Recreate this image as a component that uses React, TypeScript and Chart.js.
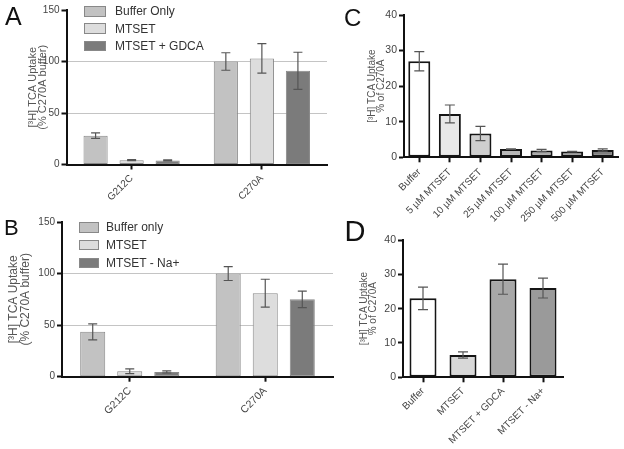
import React, { useEffect, useRef } from 'react';
import { Chart, registerables } from 'chart.js';

Chart.register(...registerables);

const FONT = "'Liberation Sans', Arial, Helvetica, sans-serif";

// ---------- Panel A ----------
const abCategories = ['G212C', 'C270A'];
const aLabels = ['Buffer Only', 'MTSET', 'MTSET + GDCA'];
const aBuffer = [28, 100];
const aBufferErr = [2.7, 8.5];
const aMtset = [4.2, 103];
const aMtsetErr = [0.5, 14.3];
const aGdca = [4, 91];
const aGdcaErr = [0.5, 18];
const aColors = ['#c2c2c2', '#dddddd', '#7b7b7b'];

// ---------- Panel B ----------
const bLabels = ['Buffer only', 'MTSET', 'MTSET - Na+'];
const bBuffer = [43.5, 100];
const bBufferErr = [7.7, 6.7];
const bMtset = [5.2, 81];
const bMtsetErr = [2.3, 13.5];
const bNa = [4.6, 75];
const bNaErr = [1, 8];
const bColors = ['#c2c2c2', '#dddddd', '#7b7b7b'];

// ---------- Panel C ----------
const cCategories = ['Buffer', '5 µM MTSET', '10 µM MTSET', '25 µM MTSET', '100 µM MTSET', '250 µM MTSET', '500 µM MTSET'];
const cValues = [27, 12.2, 6.7, 2.3, 1.9, 1.6, 2.05];
const cErr = [2.7, 2.5, 2, 0.1, 0.3, 0.1, 0.3];
const cColors = ['#ffffff', '#e8e8e8', '#cfcfcf', '#b7b7b7', '#aaaaaa', '#9a9a9a', '#808080'];

// ---------- Panel D ----------
const dCategories = ['Buffer', 'MTSET', 'MTSET + GDCA', 'MTSET - Na+'];
const dValues = [23, 6.5, 28.6, 26];
const dErr = [3.3, 0.9, 4.4, 2.9];
const dColors = ['#ffffff', '#d8d8d8', '#a8a8a8', '#9a9a9a'];

const abTitle = ['[³H] TCA Uptake', '(% C270A buffer)'];
const cdTitle = ['[³H] TCA Uptake', '% of C270A'];

const errorBarPlugin = {
  id: 'errorBars',
  afterDatasetsDraw(chart: any, _args: any, opts: any) {
    const ctx = chart.ctx;
    const ys = chart.scales.y;
    chart.data.datasets.forEach((ds: any, i: number) => {
      const meta = chart.getDatasetMeta(i);
      meta.data.forEach((el: any, j: number) => {
        const v = ds.data[j];
        const e = ds.errorBars ? ds.errorBars[j] : null;
        if (e == null) return;
        const x = el.x;
        const y1 = ys.getPixelForValue(v + e);
        const y2 = ys.getPixelForValue(v - e);
        const c = opts.cap / 2;
        ctx.save();
        ctx.strokeStyle = opts.color;
        ctx.lineWidth = opts.width;
        ctx.beginPath();
        ctx.moveTo(x, y1);
        ctx.lineTo(x, y2);
        ctx.moveTo(x - c, y1);
        ctx.lineTo(x + c, y1);
        ctx.moveTo(x - c, y2);
        ctx.lineTo(x + c, y2);
        ctx.stroke();
        ctx.restore();
      });
    });
  },
};

type DS = { label: string; data: number[]; err: number[]; color: string | string[] };
type Cfg = {
  left: number; top: number; width: number; height: number;
  padLeft: number; padTop: number; padRight: number;
  yWidth: number; xHeight: number;
  yMax: number; yStep: number;
  yTitle: string[]; titleSize: number; titleLH: number;
  tickSize: number; xTickSize: number; xPad: number;
  categories: string[]; datasets: DS[];
  grid: number[];
  barBorder: string; barBorderWidth: number;
  catPct: number; barPct: number;
  errColor: string; errWidth: number; cap: number;
};

function BarPanel({ cfg }: { cfg: Cfg }) {
  const ref = useRef<HTMLCanvasElement>(null);
  useEffect(() => {
    const chart = new Chart(ref.current as HTMLCanvasElement, {
      type: 'bar',
      data: {
        labels: cfg.categories,
        datasets: cfg.datasets.map((d) => ({
          label: d.label,
          data: d.data,
          errorBars: d.err,
          backgroundColor: d.color,
          borderColor: cfg.barBorder,
          borderWidth: cfg.barBorderWidth,
          borderSkipped: false,
          categoryPercentage: cfg.catPct,
          barPercentage: cfg.barPct,
        })) as any,
      },
      options: {
        responsive: false,
        maintainAspectRatio: false,
        animation: false,
        layout: { padding: { left: cfg.padLeft, top: cfg.padTop, right: cfg.padRight, bottom: 0 } },
        plugins: {
          legend: { display: false },
          tooltip: { enabled: false },
          errorBars: { color: cfg.errColor, width: cfg.errWidth, cap: cfg.cap },
        } as any,
        scales: {
          x: {
            afterFit: (s: any) => { s.height = cfg.xHeight; },
            ticks: {
              font: { family: FONT, size: cfg.xTickSize },
              color: '#444',
              minRotation: 45,
              maxRotation: 45,
              padding: cfg.xPad,
              autoSkip: false,
            },
            grid: {
              display: true,
              drawOnChartArea: false,
              drawTicks: true,
              tickLength: 5,
              tickColor: '#111',
              tickWidth: 2,
              offset: false,
            },
            border: { color: '#111', width: 2 },
          } as any,
          y: {
            min: 0,
            max: cfg.yMax,
            afterFit: (s: any) => { s.width = cfg.yWidth; },
            ticks: {
              stepSize: cfg.yStep,
              font: { family: FONT, size: cfg.tickSize },
              color: '#444',
              padding: 2,
            },
            grid: {
              color: (c: any) => (c.tick && cfg.grid.includes(c.tick.value) ? '#c4c4c4' : 'rgba(0,0,0,0)'),
              lineWidth: 1,
              drawOnChartArea: cfg.grid.length > 0,
              drawTicks: true,
              tickLength: 5,
              tickColor: '#111',
              tickWidth: 2,
            },
            border: { color: '#111', width: 2 },
            title: {
              display: true,
              text: cfg.yTitle,
              font: { family: FONT, size: cfg.titleSize, lineHeight: cfg.titleLH + 'px' },
              color: '#555',
              padding: 0,
            },
          } as any,
        },
      },
      plugins: [errorBarPlugin as any],
    });
    return () => chart.destroy();
  }, [cfg]);
  return (
    <canvas
      ref={ref}
      width={cfg.width}
      height={cfg.height}
      style={{ position: 'absolute', left: cfg.left, top: cfg.top, width: cfg.width, height: cfg.height }}
    />
  );
}

const cfgA: Cfg = {
  left: 0, top: 0, width: 345, height: 215,
  padLeft: 28, padTop: 10, padRight: 18, yWidth: 38.5, xHeight: 50.5,
  yMax: 150, yStep: 50, yTitle: abTitle, titleSize: 11, titleLH: 10,
  tickSize: 10, xTickSize: 10, xPad: 3,
  categories: abCategories,
  datasets: [
    { label: aLabels[0], data: aBuffer, err: aBufferErr, color: aColors[0] },
    { label: aLabels[1], data: aMtset, err: aMtsetErr, color: aColors[1] },
    { label: aLabels[2], data: aGdca, err: aGdcaErr, color: aColors[2] },
  ],
  grid: [50, 100], barBorder: '#888', barBorderWidth: 1,
  catPct: 0.83, barPct: 0.67, errColor: '#555', errWidth: 1.2, cap: 9,
};

const cfgB: Cfg = {
  left: 0, top: 212, width: 345, height: 237,
  padLeft: 8, padTop: 10, padRight: 12, yWidth: 54, xHeight: 72.3,
  yMax: 150, yStep: 50, yTitle: abTitle, titleSize: 12, titleLH: 12,
  tickSize: 10, xTickSize: 10.5, xPad: 3,
  categories: abCategories,
  datasets: [
    { label: bLabels[0], data: bBuffer, err: bBufferErr, color: bColors[0] },
    { label: bLabels[1], data: bMtset, err: bMtsetErr, color: bColors[1] },
    { label: bLabels[2], data: bNa, err: bNaErr, color: bColors[2] },
  ],
  grid: [50, 100], barBorder: '#888', barBorderWidth: 1,
  catPct: 0.82, barPct: 0.676, errColor: '#555', errWidth: 1.2, cap: 9,
};

const cfgC: Cfg = {
  left: 340, top: 0, width: 284, height: 235,
  padLeft: 28, padTop: 15, padRight: 6, yWidth: 36, xHeight: 77.7,
  yMax: 40, yStep: 10, yTitle: cdTitle, titleSize: 10, titleLH: 9,
  tickSize: 10.5, xTickSize: 10, xPad: 4,
  categories: cCategories,
  datasets: [{ label: 'C', data: cValues, err: cErr, color: cColors }],
  grid: [], barBorder: '#151515', barBorderWidth: 2,
  catPct: 0.72, barPct: 1, errColor: '#555', errWidth: 1.2, cap: 10,
};

const cfgD: Cfg = {
  left: 340, top: 222, width: 284, height: 227,
  padLeft: 20, padTop: 18, padRight: 61, yWidth: 43, xHeight: 71.7,
  yMax: 40, yStep: 10, yTitle: cdTitle, titleSize: 10, titleLH: 9,
  tickSize: 10.5, xTickSize: 10, xPad: 3,
  categories: dCategories,
  datasets: [{ label: 'D', data: dValues, err: dErr, color: dColors }],
  grid: [], barBorder: '#151515', barBorderWidth: 2,
  catPct: 0.675, barPct: 1, errColor: '#555', errWidth: 1.2, cap: 10,
};

function Legend({ labels, colors, left, top, step, boxW, boxH, textLeft }: any) {
  return (
    <>
      {labels.map((l: string, i: number) => (
        <React.Fragment key={l}>
          <div
            style={{
              position: 'absolute', left, top: top + i * step, width: boxW, height: boxH,
              background: colors[i], border: '1px solid #888', boxSizing: 'border-box',
            }}
          />
          <div
            style={{
              position: 'absolute', left: textLeft, top: top + i * step + boxH / 2 - 8, height: 16,
              lineHeight: '16px', fontFamily: FONT, fontSize: 12, color: '#333', whiteSpace: 'nowrap',
            }}
          >
            {l}
          </div>
        </React.Fragment>
      ))}
    </>
  );
}

function Letter({ ch, left, top, size }: any) {
  return (
    <div style={{ position: 'absolute', left, top, fontFamily: FONT, fontSize: size, lineHeight: 1, color: '#111' }}>
      {ch}
    </div>
  );
}

export default function App() {
  return (
    <div style={{ position: 'absolute', left: 0, top: 0, width: 624, height: 449, background: '#fff', overflow: 'hidden' }}>
      <BarPanel cfg={cfgA} />
      <BarPanel cfg={cfgB} />
      <BarPanel cfg={cfgD} />
      <BarPanel cfg={cfgC} />
      <Legend labels={aLabels} colors={aColors} left={84} top={6} step={17.3} boxW={22} boxH={10.5} textLeft={115} />
      <Legend labels={bLabels} colors={bColors} left={79} top={222} step={17.8} boxW={20} boxH={10.5} textLeft={106} />
      <Letter ch="A" left={5} top={3.7} size={25} />
      <Letter ch="B" left={4} top={217} size={22} />
      <Letter ch="C" left={344} top={6} size={24} />
      <Letter ch="D" left={344.5} top={216.5} size={29} />
    </div>
  );
}
